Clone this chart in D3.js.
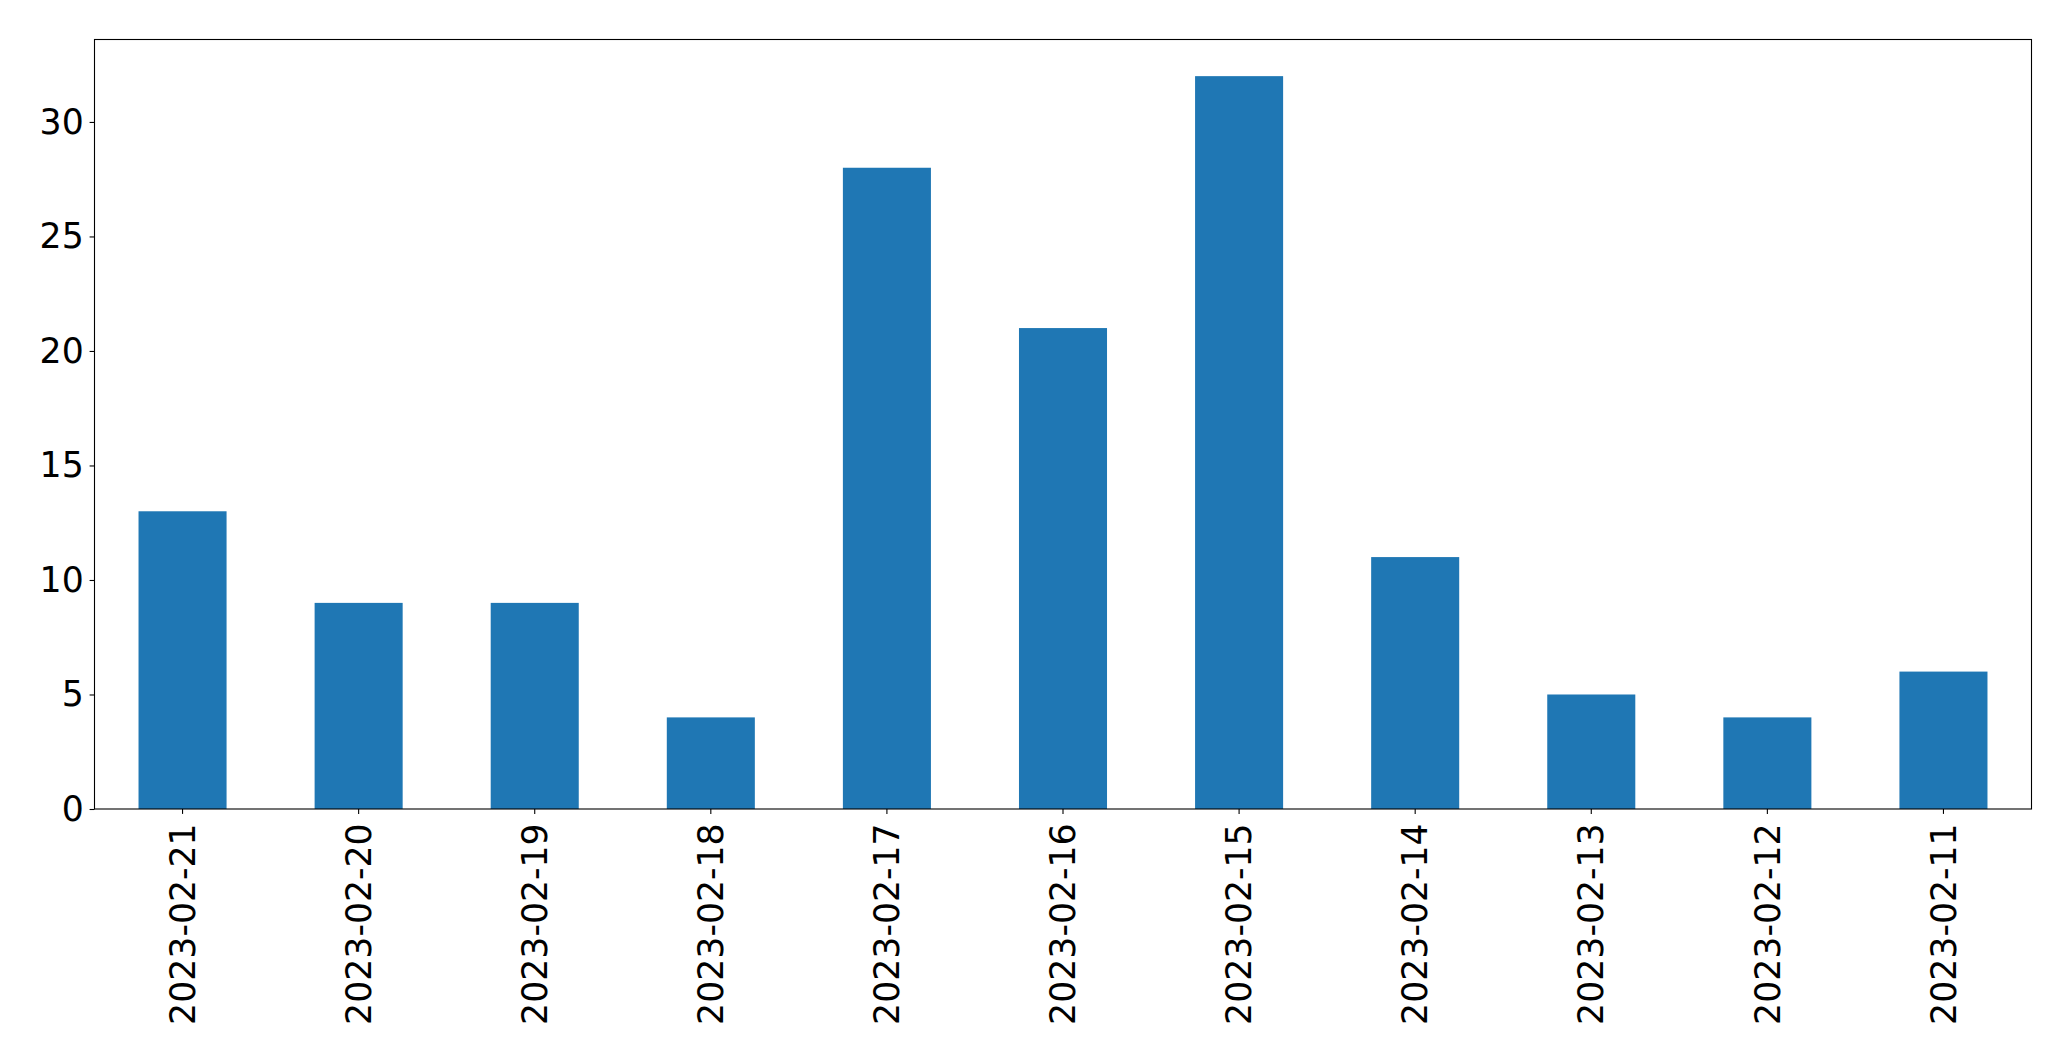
<!DOCTYPE html>
<html>
<head>
<meta charset="utf-8">
<script src="https://cdn.jsdelivr.net/npm/d3@7"></script>
<style>
html,body{margin:0;padding:0;background:#fff;}
svg{display:block;}
</style>
</head>
<body>
<script>
const categories = ["2023-02-21","2023-02-20","2023-02-19","2023-02-18","2023-02-17","2023-02-16","2023-02-15","2023-02-14","2023-02-13","2023-02-12","2023-02-11"];
const values = [13, 9, 9, 4, 28, 21, 32, 11, 5, 4, 6];
const yTicks = [0, 5, 10, 15, 20, 25, 30];

const W = 2071, H = 1061;
const L = 94.5, R = 2031.5, T = 39.5, B = 809;
const fontSize = 34.7;
const tickLen = 4.9, tickPad = 4.9;

const svg = d3.select("body").append("svg").attr("width", W).attr("height", H)
  .style("font-family", "'DejaVu Sans', sans-serif");

const x = d3.scaleBand().domain(categories).range([L, R]).paddingInner(0.5).paddingOuter(0.25);
const yMax = d3.max(values) * 1.05;
const y = d3.scaleLinear().domain([0, yMax]).range([B, T]);

svg.append("g").selectAll("rect").data(values).join("rect")
  .attr("x", (d, i) => x(categories[i]))
  .attr("width", x.bandwidth())
  .attr("y", d => y(d))
  .attr("height", d => y(0) - y(d))
  .attr("fill", "#1f77b4");

// y axis
const yAxis = d3.axisLeft(y).tickValues(yTicks).tickSize(tickLen).tickPadding(tickPad + 1).tickFormat(d3.format("d"));
const gy = svg.append("g").attr("transform", `translate(${L},0)`).call(yAxis);
gy.select(".domain").remove();
gy.selectAll("line").attr("stroke", "#000").attr("stroke-width", 1.1);
gy.selectAll("text").attr("font-size", fontSize).attr("fill", "#000").attr("font-family", "'DejaVu Sans', sans-serif");

// x axis
const xAxis = d3.axisBottom(x).tickSize(tickLen).tickPadding(tickPad);
const gx = svg.append("g").attr("transform", `translate(0,${B})`).call(xAxis);
gx.select(".domain").remove();
gx.selectAll("line").attr("stroke", "#000").attr("stroke-width", 1.1);
gx.selectAll("text")
  .attr("font-size", fontSize).attr("fill", "#000").attr("font-family", "'DejaVu Sans', sans-serif")
  .attr("transform", `translate(0,${tickLen + tickPad + 4.5}) rotate(-90)`)
  .attr("x", 0).attr("y", 0).attr("dy", "0.35em")
  .attr("text-anchor", "end");

// frame
svg.append("rect").attr("x", L).attr("y", T).attr("width", R - L).attr("height", B - T)
  .attr("fill", "none").attr("stroke", "#000").attr("stroke-width", 1.1);
</script>
</body>
</html>
